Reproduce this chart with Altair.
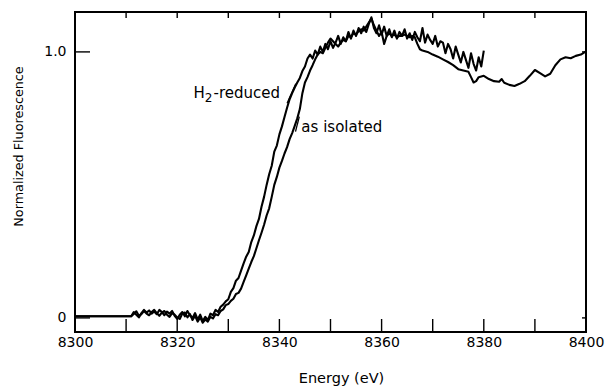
import altair as alt
import pandas as pd

# ---------------- data ----------------
energy_h2 = [8300, 8311, 8311.5, 8312, 8312.5, 8313, 8313.5, 8314, 8314.5, 8315, 8315.5,
             8316, 8316.5, 8317, 8317.5, 8318, 8318.5, 8319, 8319.5, 8320, 8320.5,
             8321, 8321.5, 8322, 8322.5, 8323, 8323.5, 8324, 8324.5, 8325, 8325.5,
             8326, 8326.5, 8327, 8327.5, 8328, 8328.5, 8329, 8329.5, 8330, 8330.5,
             8331, 8331.5, 8332, 8332.5, 8333, 8333.5, 8334, 8334.5, 8335, 8335.5,
             8336, 8336.5, 8337, 8337.5, 8338, 8338.5, 8339, 8339.5, 8340, 8340.5,
             8341, 8341.5, 8342, 8342.5, 8343, 8343.5, 8344, 8344.5, 8345, 8345.5,
             8346, 8346.5, 8347, 8347.5, 8348, 8348.5, 8349, 8349.5, 8350, 8350.5,
             8351, 8351.5, 8352, 8352.5, 8353, 8353.5, 8354, 8354.5, 8355, 8355.5,
             8356, 8356.5, 8357, 8357.5, 8358, 8358.5, 8359, 8359.5, 8360, 8360.5,
             8361, 8361.5, 8362, 8362.5, 8363, 8363.5, 8364, 8364.5, 8365, 8365.5,
             8366, 8366.5, 8367, 8367.5, 8368, 8368.5, 8369, 8369.5, 8370, 8370.5,
             8371, 8371.5, 8372, 8372.5, 8373, 8373.5, 8374, 8374.5, 8375, 8375.5,
             8376, 8376.5, 8377, 8377.5, 8378, 8378.5, 8379, 8379.5, 8380]
flu_h2 = [0.006, 0.006, 0.022, 0.012, 0.002, 0.018, 0.030, 0.020, 0.028, 0.016, 0.024,
          0.014, 0.030, 0.022, 0.010, 0.024, 0.016, 0.026, 0.008, -0.004, 0.012,
          0.022, 0.006, 0.026, 0.010, 0.000, 0.018, -0.006, 0.012, -0.012, 0.004,
          -0.008, 0.016, 0.010, 0.030, 0.022, 0.042, 0.050, 0.062, 0.070, 0.098,
          0.112, 0.140, 0.150, 0.178, 0.205, 0.230, 0.248, 0.285, 0.310, 0.345,
          0.372, 0.418, 0.455, 0.500, 0.540, 0.572, 0.625, 0.648, 0.690, 0.720,
          0.755, 0.790, 0.822, 0.845, 0.866, 0.885, 0.902, 0.928, 0.945, 0.975,
          0.990, 0.975, 1.005, 0.990, 1.020, 1.000, 1.030, 1.010, 1.040, 1.015,
          1.035, 1.060, 1.030, 1.055, 1.040, 1.075, 1.050, 1.080, 1.060, 1.090,
          1.070, 1.095, 1.075, 1.105, 1.130, 1.090, 1.070, 1.100, 1.065, 1.095,
          1.060, 1.085, 1.055, 1.080, 1.050, 1.075, 1.060, 1.085, 1.050, 1.070,
          1.045, 1.075, 1.055, 1.040, 1.090, 1.035, 1.065, 1.045, 1.030, 1.060,
          1.020, 1.040, 1.035, 0.995, 1.030, 1.010, 0.975, 1.020, 0.990, 0.960,
          1.000, 0.970, 0.940, 0.995, 0.955, 0.930, 0.980, 0.945, 1.005]

energy_iso = [8300, 8311, 8311.5, 8312, 8312.5, 8313, 8313.5, 8314, 8314.5, 8315, 8315.5,
              8316, 8316.5, 8317, 8317.5, 8318, 8318.5, 8319, 8319.5, 8320, 8320.5,
              8321, 8321.5, 8322, 8322.5, 8323, 8323.5, 8324, 8324.5, 8325, 8325.5,
              8326, 8326.5, 8327, 8327.5, 8328, 8328.5, 8329, 8329.5, 8330, 8330.5,
              8331, 8331.5, 8332, 8332.5, 8333, 8333.5, 8334, 8334.5, 8335, 8335.5,
              8336, 8336.5, 8337, 8337.5, 8338, 8338.5, 8339, 8339.5, 8340, 8340.5,
              8341, 8341.5, 8342, 8342.5, 8343, 8343.5, 8344, 8344.5, 8345, 8345.5,
              8346, 8346.5, 8347, 8347.5, 8348, 8348.5, 8349, 8349.5, 8350, 8350.5,
              8351, 8351.5, 8352, 8352.5, 8353, 8353.5, 8354, 8354.5, 8355, 8355.5,
              8356, 8356.5, 8357, 8357.5, 8358, 8358.5, 8359, 8359.5, 8360, 8360.5,
              8361, 8361.5, 8362, 8362.5, 8363, 8363.5, 8364, 8364.5, 8365, 8365.5,
              8366, 8366.5, 8367, 8367.5, 8368, 8369, 8370, 8371, 8372, 8373,
              8374, 8375, 8376, 8377, 8377.5, 8378, 8378.5, 8379, 8380, 8381,
              8382, 8383, 8383.5, 8384, 8385, 8386, 8387, 8388, 8389, 8390,
              8391, 8392, 8393, 8394, 8395, 8396, 8397, 8398, 8399, 8400]
flu_iso = [0.006, 0.006, 0.015, 0.025, 0.008, 0.014, 0.026, 0.016, 0.010, 0.022, 0.030,
           0.018, 0.008, 0.020, 0.026, 0.012, 0.004, 0.018, 0.012, 0.002, -0.004,
           0.016, 0.020, 0.002, 0.014, -0.008, 0.008, -0.014, 0.002, -0.018, -0.006,
           -0.014, 0.004, -0.002, 0.014, 0.010, 0.026, 0.032, 0.048, 0.052, 0.064,
           0.072, 0.090, 0.094, 0.110, 0.135, 0.160, 0.185, 0.210, 0.232, 0.262,
           0.292, 0.320, 0.350, 0.385, 0.412, 0.455, 0.500, 0.530, 0.565, 0.590,
           0.618, 0.642, 0.672, 0.695, 0.722, 0.750, 0.785, 0.845, 0.885, 0.905,
           0.930, 0.950, 0.972, 0.990, 1.000, 0.995, 1.015, 1.035, 1.050, 1.040,
           1.030, 1.020, 1.035, 1.045, 1.040, 1.060, 1.055, 1.070, 1.065, 1.078,
           1.085, 1.080, 1.095, 1.110, 1.125, 1.100, 1.080, 1.060, 1.075, 1.030,
           1.060, 1.070, 1.060, 1.065, 1.055, 1.060, 1.060, 1.065, 1.060, 1.055,
           1.060, 1.055, 1.030, 1.010, 1.005, 1.000, 0.990, 0.982, 0.972, 0.962,
           0.950, 0.935, 0.930, 0.925, 0.905, 0.885, 0.890, 0.905, 0.910, 0.898,
           0.890, 0.888, 0.898, 0.884, 0.876, 0.872, 0.880, 0.890, 0.910, 0.932,
           0.920, 0.908, 0.918, 0.950, 0.972, 0.980, 0.976, 0.985, 0.990, 1.002]

x_label_values = [8300, 8320, 8340, 8360, 8380, 8400]
x_tick_values = [8310, 8320, 8330, 8340, 8350, 8360, 8370, 8380, 8390]
y_tick_values = [0, 1.0]

label_texts = ["H", "2", "-reduced", "as isolated"]
label_energy = [8323.2, 8325.4, 8327.1, 8344.3]
label_fluor = [0.826, 0.812, 0.826, 0.700]

leader_e1 = [8341.5, 8343.15]
leader_v1 = [0.807, 0.700]
leader_e2 = [8343.2, 8343.9]
leader_v2 = [0.880, 0.757]

# ---------------- chart ----------------
FONT = "DejaVu Sans"
W, H = 511, 320

df = pd.concat([
    pd.DataFrame({"energy": energy_h2, "fluor": flu_h2, "series": "H2-reduced"}),
    pd.DataFrame({"energy": energy_iso, "fluor": flu_iso, "series": "as isolated"}),
])

xs = alt.Scale(domain=[8300, 8400], nice=False, zero=False)
ys = alt.Scale(domain=[-0.053, 1.15], nice=False, zero=False)

lines = alt.Chart(df).mark_line(color="black", strokeWidth=2.1, strokeJoin="round").encode(
    x=alt.X("energy:Q", scale=xs, axis=alt.Axis(
        values=x_label_values, title="Energy (eV)", tickSize=0, domain=False, grid=False,
        labelPadding=3, labelFont=FONT, labelFontSize=14, labelColor="black", labelFlush=False,
        format="d", titleFont=FONT, titleFontSize=14.5, titleFontWeight="normal", titleColor="black",
        titleX=266, titleY=50, titleBaseline="alphabetic", titleAnchor="start", titleAlign="center")),
    y=alt.Y("fluor:Q", scale=ys, axis=alt.Axis(
        values=y_tick_values, title="Normalized Fluorescence", tickSize=0, domain=False, grid=False,
        labelPadding=9, labelFont=FONT, labelFontSize=14, labelColor="black",
        labelExpr="datum.value == 0 ? '0\u00a0\u00a0' : '1.0'",
        titleFont=FONT, titleFontSize=12.75, titleFontWeight="normal", titleColor="black",
        titleAngle=270, titleX=-57, titleY=134, titleAlign="center", titleBaseline="middle")),
    detail="series:N",
)

xt = pd.DataFrame({"energy": x_tick_values})
bottom_ticks = alt.Chart(xt).mark_rule(color="black", strokeWidth=1.4).encode(
    x=alt.X("energy:Q", scale=xs), y=alt.value(H), y2=alt.value(H - 13))
top_ticks = alt.Chart(xt).mark_rule(color="black", strokeWidth=1.4).encode(
    x=alt.X("energy:Q", scale=xs), y=alt.value(0), y2=alt.value(6))

yt = pd.DataFrame({"fluor": y_tick_values})
left_ticks = alt.Chart(yt).mark_rule(color="black", strokeWidth=1.4).encode(
    y=alt.Y("fluor:Q", scale=ys), x=alt.value(0), x2=alt.value(15))
right_ticks = alt.Chart(yt).mark_rule(color="black", strokeWidth=1.4).encode(
    y=alt.Y("fluor:Q", scale=ys), x=alt.value(W - 4), x2=alt.value(W))

lab = pd.DataFrame({"text": label_texts, "energy": label_energy, "fluor": label_fluor})
big_labels = alt.Chart(lab).transform_filter("datum.text != '2'").mark_text(
    font=FONT, fontSize=15, color="black", baseline="alphabetic", align="left").encode(
    x=alt.X("energy:Q", scale=xs), y=alt.Y("fluor:Q", scale=ys), text="text:N")
sub_label = alt.Chart(lab).transform_filter("datum.text == '2'").mark_text(
    font=FONT, fontSize=12, color="black", baseline="alphabetic", align="left").encode(
    x=alt.X("energy:Q", scale=xs), y=alt.Y("fluor:Q", scale=ys), text="text:N")

lead = pd.DataFrame({"energy": leader_e1, "fluor": leader_v1,
                     "energy2": leader_e2, "fluor2": leader_v2})
leaders = alt.Chart(lead).mark_rule(color="black", strokeWidth=1.3).encode(
    x=alt.X("energy:Q", scale=xs), x2="energy2:Q",
    y=alt.Y("fluor:Q", scale=ys), y2="fluor2:Q")

chart = alt.layer(
    lines, bottom_ticks, top_ticks, left_ticks, right_ticks, leaders, big_labels, sub_label
).properties(
    width=W, height=H,
    padding={"left": 75, "top": 12, "right": 26, "bottom": 54},
    autosize=alt.AutoSizeParams(type="none"),
    background="white",
).configure_view(stroke="black", strokeWidth=2)

chart.save("out.html", embed_options={"renderer": "svg", "actions": False})
